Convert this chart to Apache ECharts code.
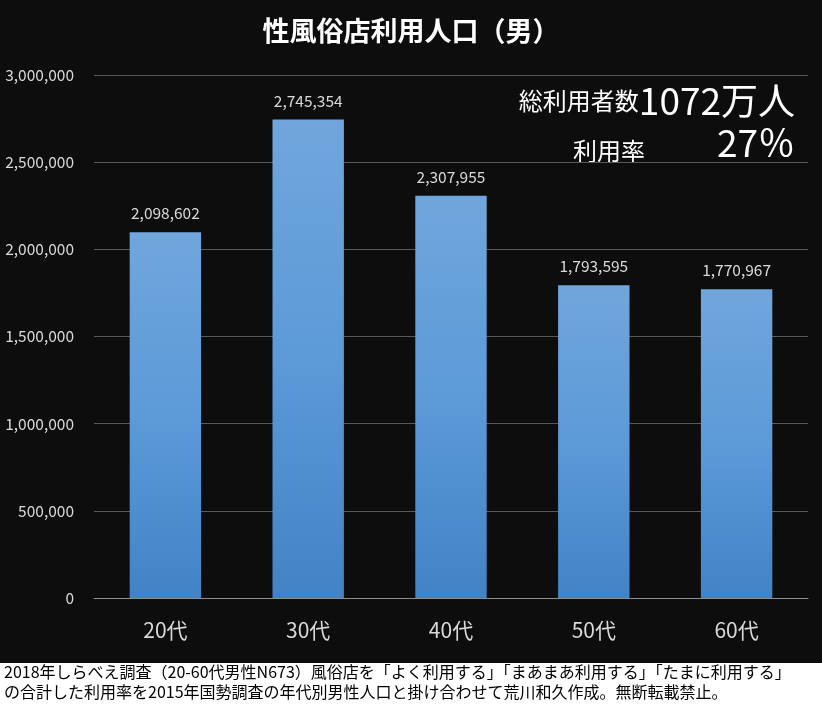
<!DOCTYPE html>
<html>
<head>
<meta charset="utf-8">
<script src="https://cdn.jsdelivr.net/npm/echarts@6/dist/echarts.min.js"></script>
<style>
  html, body { margin: 0; padding: 0; background: #0d0d0d; }
  #c1 { width: 822px; height: 708px; }
</style>
</head>
<body>
<div id="c1"></div>
<script>
const categories = ['20代', '30代', '40代', '50代', '60代']
const users = [2098602, 2745354, 2307955, 1793595, 1770967]
const yTicks = { min: 0, max: 3000000, interval: 500000 }
const titleText = '性風俗店利用人口（男）'
const noteLines = [
  '2018年しらべえ調査（20-60代男性N673）風俗店を「よく利用する」「まあまあ利用する」「たまに利用する」',
  'の合計した利用率を2015年国勢調査の年代別男性人口と掛け合わせて荒川和久作成。無断転載禁止。'
]

const font = '"Noto Sans CJK JP", "Noto Sans", sans-serif'
const fmt = v => v.toLocaleString('en-US')

const myChart = echarts.init(document.getElementById('c1'))
const option = {
  backgroundColor: '#0d0d0d',
  animation: false,
  title: {
    text: titleText,
    left: 'center',
    top: 12,
    textStyle: { color: '#ffffff', fontSize: 27, fontWeight: 'bold', fontFamily: font }
  },
  grid: { left: 94, right: 14, top: 75, bottom: 110 },
  xAxis: {
    type: 'category',
    data: categories,
    axisTick: { show: false },
    axisLine: { lineStyle: { color: '#8c8c8c', width: 1 } },
    axisLabel: { color: '#d9d9d9', fontSize: 21, fontFamily: font, margin: 22 }
  },
  yAxis: {
    type: 'value',
    min: yTicks.min,
    max: yTicks.max,
    interval: yTicks.interval,
    axisLine: { show: false },
    axisTick: { show: false },
    splitLine: { lineStyle: { color: '#595959', width: 1 } },
    axisLabel: { color: '#d9d9d9', fontSize: 15.5, fontFamily: font, margin: 20, formatter: fmt }
  },
  series: [{
    type: 'bar',
    data: users,
    barWidth: '50%',
    itemStyle: {
      color: new echarts.graphic.LinearGradient(0, 0, 0, 1, [
        { offset: 0, color: '#70a6dc' },
        { offset: 0.5, color: '#5c9ad8' },
        { offset: 1, color: '#4283c6' }
      ])
    },
    label: {
      show: true,
      position: 'top',
      distance: 11,
      color: '#d9d9d9',
      fontSize: 15.5,
      fontFamily: font,
      formatter: p => fmt(p.value)
    }
  }],
  graphic: [
    {
      type: 'text', right: 27, top: 82,
      style: {
        rich: {
          a: { fontSize: 24, fontFamily: font, fill: '#ffffff' },
          b: { fontSize: 37, fontFamily: font, fill: '#ffffff' }
        },
        text: '{a|総利用者数}{b|1072万人}'
      }
    },
    {
      type: 'text', left: 573, top: 139,
      style: { text: '利用率', fontSize: 24, fontFamily: font, fill: '#ffffff' }
    },
    {
      type: 'text', right: 27, top: 124,
      style: { text: '27％', fontSize: 37, fontFamily: font, fill: '#ffffff' }
    },
    {
      type: 'rect', left: 0, top: 663,
      shape: { width: 822, height: 45 },
      style: { fill: '#ffffff' }
    },
    {
      type: 'text', left: 4, top: 664,
      style: { text: noteLines[0], fontSize: 16, fontFamily: font, fill: '#000000' }
    },
    {
      type: 'text', left: 4, top: 684,
      style: { text: noteLines[1], fontSize: 16, fontFamily: font, fill: '#000000' }
    }
  ]
}
myChart.setOption(option)
</script>
</body>
</html>
